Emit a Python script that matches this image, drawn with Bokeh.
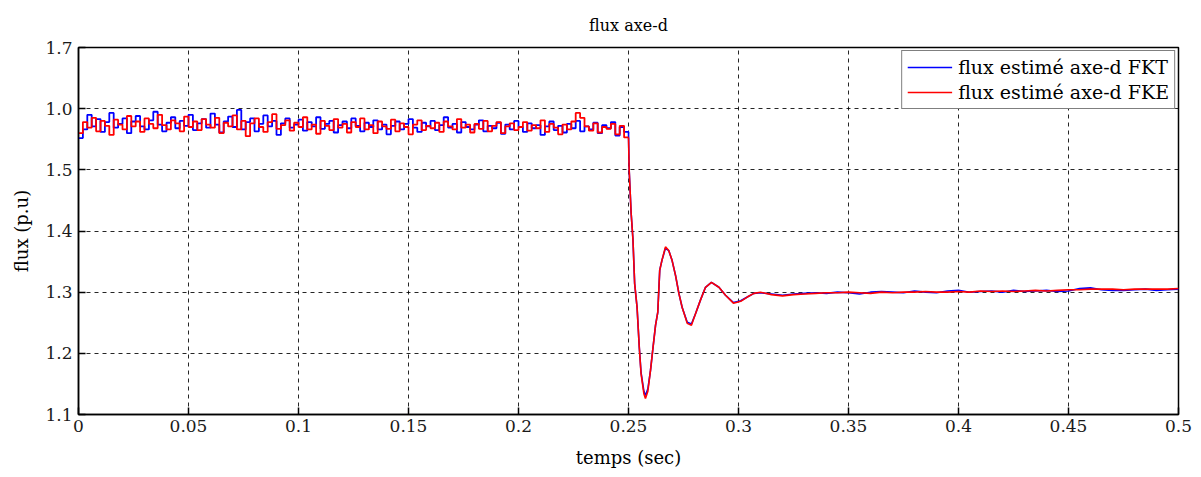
import numpy as np
from bokeh.plotting import figure
from bokeh.models import Range1d, FixedTicker, Legend
from bokeh.embed import file_html
from bokeh.resources import INLINE

# ---- data ----
x_ticks = [0, 0.05, 0.1, 0.15, 0.2, 0.25, 0.3, 0.35, 0.4, 0.45, 0.5]
x_tick_labels = ["0", "0.05", "0.1", "0.15", "0.2", "0.25", "0.3", "0.35", "0.4", "0.45", "0.5"]
y_ticks = [1.1, 1.2, 1.3, 1.4, 1.5, 1.6, 1.7]
y_tick_labels = ["1.1", "1.2", "1.3", "1.4", "1.5", "1.0", "1.7"]

# before the step (t = 0 ... 0.248 s, every 2 ms)
fkt_pre = [
    1.552, 1.566, 1.590, 1.571, 1.583, 1.562, 1.578, 1.593, 1.569, 1.575,
    1.584, 1.560, 1.579, 1.588, 1.571, 1.566, 1.581, 1.595, 1.574, 1.563,
    1.577, 1.586, 1.568, 1.580, 1.572, 1.590, 1.565, 1.576, 1.583, 1.569,
    1.592, 1.574, 1.561, 1.579, 1.587, 1.570, 1.598, 1.566, 1.578, 1.584,
    1.563, 1.575, 1.589, 1.571, 1.580, 1.557, 1.576, 1.584, 1.569, 1.574,
    1.582, 1.564, 1.578, 1.571, 1.586, 1.567, 1.575, 1.580, 1.561, 1.573,
    1.579, 1.568, 1.584, 1.572, 1.563, 1.577, 1.570, 1.581, 1.566, 1.574,
    1.558, 1.572, 1.579, 1.566, 1.575, 1.583, 1.569, 1.562, 1.577, 1.571,
    1.580, 1.565, 1.573, 1.586, 1.569, 1.575, 1.561, 1.578, 1.570, 1.566,
    1.574, 1.581, 1.563, 1.572, 1.568, 1.577, 1.559, 1.574, 1.566, 1.580,
    1.570, 1.562, 1.576, 1.568, 1.573, 1.557, 1.571, 1.579, 1.565, 1.572,
    1.561, 1.575, 1.568, 1.580, 1.563, 1.571, 1.566, 1.577, 1.560, 1.573,
    1.568, 1.578, 1.556, 1.570, 1.562,
]
fke_pre = [
    1.560, 1.578, 1.569, 1.585, 1.563, 1.580, 1.572, 1.557, 1.582, 1.574,
    1.566, 1.588, 1.571, 1.579, 1.562, 1.584, 1.575, 1.568, 1.590, 1.573,
    1.566, 1.581, 1.576, 1.563, 1.587, 1.570, 1.579, 1.565, 1.583, 1.574,
    1.569, 1.585, 1.560, 1.577, 1.571, 1.589, 1.566, 1.580, 1.555, 1.576,
    1.584, 1.570, 1.562, 1.578, 1.591, 1.567, 1.573, 1.581, 1.564, 1.577,
    1.570, 1.586, 1.566, 1.574, 1.559, 1.580, 1.572, 1.565, 1.583, 1.569,
    1.575, 1.561, 1.578, 1.570, 1.584, 1.566, 1.573, 1.560, 1.579, 1.571,
    1.567, 1.582, 1.563, 1.576, 1.570, 1.558, 1.574, 1.581, 1.565, 1.572,
    1.568, 1.577, 1.562, 1.579, 1.571, 1.566, 1.583, 1.569, 1.574, 1.561,
    1.575, 1.567, 1.580, 1.563, 1.572, 1.578, 1.560, 1.571, 1.576, 1.565,
    1.570, 1.578, 1.564, 1.573, 1.568, 1.581, 1.562, 1.575, 1.569, 1.558,
    1.574, 1.566, 1.579, 1.593, 1.585, 1.571, 1.564, 1.576, 1.561, 1.570,
    1.567, 1.575, 1.558, 1.572, 1.553,
]
t_pre = [round(i * 0.002, 3) for i in range(len(fkt_pre))]

# transient after the step
t_tr = [0.250, 0.2503, 0.2512, 0.2520, 0.2528, 0.2539, 0.2549, 0.2557, 0.2570, 0.2577,
        0.2588, 0.2600, 0.2611, 0.2623, 0.2633, 0.2642, 0.2652, 0.2668, 0.2683, 0.2698,
        0.2714, 0.2729, 0.2744, 0.2767, 0.2786, 0.2805, 0.2827, 0.2850, 0.2877, 0.2911,
        0.2941, 0.2977, 0.3010, 0.3040, 0.3070, 0.3100]
fkt_tr = [1.560, 1.500, 1.429, 1.388, 1.314, 1.275, 1.210, 1.169, 1.138, 1.131,
          1.142, 1.172, 1.208, 1.246, 1.267, 1.336, 1.352, 1.372, 1.368, 1.352,
          1.327, 1.298, 1.275, 1.251, 1.248, 1.265, 1.287, 1.308, 1.316, 1.308,
          1.295, 1.283, 1.286, 1.292, 1.298, 1.299]
fke_tr = [1.553, 1.500, 1.429, 1.388, 1.314, 1.275, 1.210, 1.167, 1.134, 1.126,
          1.138, 1.172, 1.208, 1.246, 1.267, 1.336, 1.352, 1.374, 1.368, 1.352,
          1.327, 1.298, 1.275, 1.249, 1.246, 1.265, 1.287, 1.308, 1.316, 1.308,
          1.295, 1.282, 1.285, 1.292, 1.298, 1.300]

# settled part (t = 0.315 ... 0.5 s, every 5 ms)
fkt_post = [1.297, 1.295, 1.297, 1.298, 1.299, 1.298, 1.300, 1.299, 1.297, 1.300,
            1.301, 1.300, 1.299, 1.302, 1.300, 1.299, 1.302, 1.303, 1.300, 1.301,
            1.302, 1.300, 1.303, 1.301, 1.302, 1.303, 1.301, 1.302, 1.306, 1.307,
            1.304, 1.303, 1.303, 1.304, 1.305, 1.303, 1.304, 1.305]
fke_post = [1.296, 1.294, 1.296, 1.297, 1.298, 1.299, 1.299, 1.300, 1.299, 1.298,
            1.300, 1.299, 1.300, 1.300, 1.301, 1.300, 1.300, 1.301, 1.300, 1.302,
            1.301, 1.302, 1.301, 1.302, 1.303, 1.302, 1.303, 1.304, 1.304, 1.305,
            1.305, 1.305, 1.304, 1.305, 1.305, 1.305, 1.305, 1.306]
t_post = [round(0.315 + i * 0.005, 3) for i in range(len(fkt_post))]

SERIF = "DejaVu Serif"

p = figure(width=1201, height=477, output_backend="svg", toolbar_location=None,
           x_range=Range1d(0, 0.5), y_range=Range1d(1.1, 1.7),
           min_border_left=78, min_border_right=23, min_border_top=47, min_border_bottom=63,
           title="flux axe-d")
p.title.align = "center"
p.title.vertical_align = "bottom"
p.title.text_font = SERIF
p.title.text_font_size = "16px"
p.title.text_font_style = "normal"
p.title.text_color = "black"
p.title.standoff = 26
p.title.offset = -12

p.background_fill_color = "white"
p.border_fill_color = "white"
p.outline_line_color = "black"
p.outline_line_width = 1.5

# grid
for g in (p.xgrid, p.ygrid):
    g.grid_line_color = "black"
    g.grid_line_dash = "4 4"
    g.grid_line_width = 1
    g.grid_line_alpha = 0.85
p.xgrid.ticker = FixedTicker(ticks=x_ticks)
p.ygrid.ticker = FixedTicker(ticks=y_ticks)

# axes
xa = p.xaxis[0]
ya = p.yaxis[0]
xa.ticker = FixedTicker(ticks=x_ticks)
ya.ticker = FixedTicker(ticks=y_ticks)
xa.major_label_overrides = {v: s for v, s in zip(x_ticks, x_tick_labels)}
ya.major_label_overrides = {v: s for v, s in zip(y_ticks, y_tick_labels)}
for a in (xa, ya):
    a.major_tick_in = 7
    a.major_tick_out = 0
    a.minor_tick_line_color = None
    a.axis_line_color = "black"
    a.axis_line_width = 1.5
    a.major_tick_line_color = "black"
    a.major_tick_line_width = 1.5
    a.major_label_text_font = SERIF
    a.major_label_text_font_size = "17px"
    a.major_label_text_color = "#1a1a1a"
    a.axis_label_text_font = SERIF
    a.axis_label_text_font_size = "18px"
    a.axis_label_text_font_style = "normal"
    a.axis_label_text_color = "black"
xa.axis_label = "temps (sec)"
ya.axis_label = "flux (p.u)"
xa.major_label_standoff = 5
xa.axis_label_standoff = 12
ya.major_label_standoff = 6
ya.axis_label_standoff = 10

# noisy part drawn as held samples, the transient as a line
b1 = p.step(t_pre + [t_tr[0]], fkt_pre + [fkt_tr[0]], mode="after",
            line_color="#0000ff", line_width=1.8)
r1 = p.line(t_tr + t_post, fkt_tr + fkt_post, line_color="#0000ff", line_width=1.6)
b2 = p.step(t_pre + [t_tr[0]], fke_pre + [fke_tr[0]], mode="after",
            line_color="#ff0000", line_width=1.8)
r2 = p.line(t_tr + t_post, fke_tr + fke_post, line_color="#ff0000", line_width=1.6)

legend = Legend(items=[("flux estimé axe-d FKT", [r1]), ("flux estimé axe-d FKE", [r2])],
                location="top_right")
legend.label_text_font = SERIF
legend.label_text_font_size = "19px"
legend.label_text_color = "black"
legend.border_line_color = "black"
legend.border_line_width = 1.5
legend.background_fill_color = "white"
legend.background_fill_alpha = 1
legend.glyph_width = 45
legend.glyph_height = 20
legend.label_height = 20
legend.spacing = 3
legend.padding = 5
legend.margin = 3
legend.label_standoff = 6
p.add_layout(legend)

open("out.html", "w").write(file_html(p, INLINE))
